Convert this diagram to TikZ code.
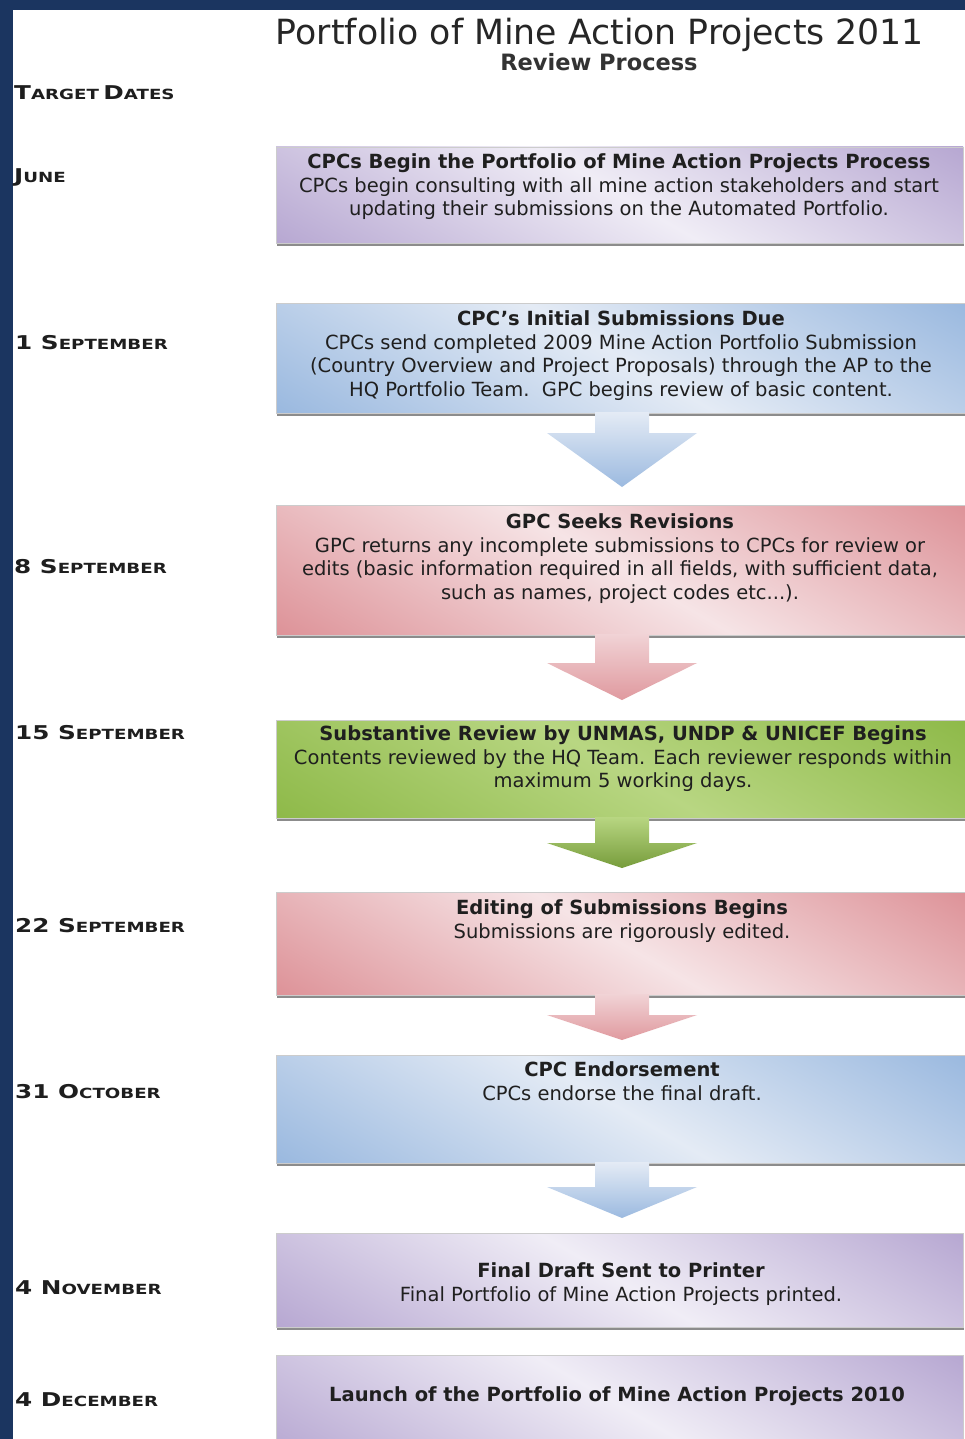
\documentclass[tikz,border=0pt]{standalone}
\usepackage{fontspec}
\usepackage{graphicx}
\setmainfont{DejaVu Sans}
\usetikzlibrary{calc,shadows}
\definecolor{navy}{RGB}{27,53,96}
\definecolor{purpD}{RGB}{180,164,208}
\definecolor{purpL}{RGB}{240,237,246}
\definecolor{blueD}{RGB}{150,182,222}
\definecolor{blueL}{RGB}{228,235,245}
\definecolor{pinkD}{RGB}{220,142,148}
\definecolor{pinkL}{RGB}{246,228,230}
\definecolor{greenD}{RGB}{140,184,70}
\definecolor{greenL}{RGB}{184,214,130}
\definecolor{datecol}{RGB}{30,30,30}
\pgfdeclarehorizontalshading{purpshade}{100bp}{color(0bp)=(purpD); color(14bp)=(purpD); color(50bp)=(purpL); color(86bp)=(purpD); color(100bp)=(purpD)}
\pgfdeclarehorizontalshading{blueshade}{100bp}{color(0bp)=(blueD); color(14bp)=(blueD); color(50bp)=(blueL); color(86bp)=(blueD); color(100bp)=(blueD)}
\pgfdeclarehorizontalshading{pinkshade}{100bp}{color(0bp)=(pinkD); color(14bp)=(pinkD); color(50bp)=(pinkL); color(86bp)=(pinkD); color(100bp)=(pinkD)}
\pgfdeclarehorizontalshading{greenshade}{100bp}{color(0bp)=(greenD); color(14bp)=(greenD); color(50bp)=(greenL); color(86bp)=(greenD); color(100bp)=(greenD)}
\newcommand{\Bg}[1]{{\fontsize{19}{19}\selectfont #1}}
\newcommand{\Sm}[1]{{\fontsize{14}{14}\selectfont #1}}
\newcommand{\dsc}[1]{\scalebox{1.3}[1]{\bfseries #1}}
\newcommand{\blockarrow}[4]{%
  \shade[#4] ($(#1)+(-27,-1)$) -- ($(#1)+(27,-1)$) -- ($(#1)+(27,#3)$) -- ($(#1)+(75,#3)$) -- (#2) -- ($(#1)+(-75,#3)$) -- ($(#1)+(-27,#3)$) -- cycle;}
\tikzset{
  box/.style={rectangle, inner sep=0pt, outer sep=0pt, draw=black!20, line width=0.7pt, shading angle=60,
    drop shadow={shadow xshift=0.5pt, shadow yshift=-3pt, fill=black, opacity=0.45}},
  boxtext/.style={anchor=north, align=center, inner sep=0pt, font=\fontsize{19.5}{23.5}\selectfont, text=black!88},
  datelab/.style={anchor=base west, inner sep=0pt, text=datecol},
  bluearrow/.style={top color=blueL, bottom color=blueD!95},
  pinkarrow/.style={top color=pinkL!80!pinkD, bottom color=pinkD!90},
  greenarrow/.style={top color=greenL, bottom color=greenD!85!black},
}
\begin{document}
\begin{tikzpicture}[x=1pt,y=-1pt]
\useasboundingbox (0,0) rectangle (965,1439);
\fill[white] (0,0) rectangle (965,1439);
\fill[navy] (0,0) rectangle (965,10);
\fill[navy] (0,0) rectangle (13,1439);

% titles
\node[anchor=base, inner sep=0pt, font=\fontsize{34.7}{34.7}\selectfont, text=black!85] (title) at (600,45) {Portfolio of Mine Action Projects 2011};
\node[anchor=base, inner sep=0pt, font=\fontsize{22.5}{22.5}\selectfont\bfseries, text=black!80] (subtitle) at (599,71) {Review Process};

% date labels
\node[datelab] (dT) at (14,100) {\dsc{\Bg{T}\Sm{ARGET} \Bg{D}\Sm{ATES}}};
\node[datelab] (d1) at (14,183) {\dsc{\Bg{J}\Sm{UNE}}};
\node[datelab] (d2) at (15,349) {\dsc{\Bg{1 S}\Sm{EPTEMBER}}};
\node[datelab] (d3) at (14,573) {\dsc{\Bg{8 S}\Sm{EPTEMBER}}};
\node[datelab] (d4) at (15,739) {\dsc{\Bg{15 S}\Sm{EPTEMBER}}};
\node[datelab] (d5) at (15,932) {\dsc{\Bg{22 S}\Sm{EPTEMBER}}};
\node[datelab] (d6) at (15,1098) {\dsc{\Bg{31 O}\Sm{CTOBER}}};
\node[datelab] (d7) at (15,1294) {\dsc{\Bg{4 N}\Sm{OVEMBER}}};
\node[datelab] (d8) at (15,1406) {\dsc{\Bg{4 D}\Sm{ECEMBER}}};

% boxes
\node[box, shading=purpshade, anchor=north west, minimum width=687pt, minimum height=96pt] (b1) at (276,147) {};
\node[box, shading=blueshade, anchor=north west, minimum width=692pt, minimum height=110pt] (b2) at (276,303) {};
\node[box, shading=pinkshade, anchor=north west, minimum width=692pt, minimum height=130pt] (b3) at (276,505) {};
\node[box, shading=greenshade, anchor=north west, minimum width=692pt, minimum height=98pt] (b4) at (276,720) {};
\node[box, shading=pinkshade, anchor=north west, minimum width=692pt, minimum height=103pt] (b5) at (276,892) {};
\node[box, shading=blueshade, anchor=north west, minimum width=692pt, minimum height=108pt] (b6) at (276,1055) {};
\node[box, shading=purpshade, anchor=north west, minimum width=687pt, minimum height=94pt] (b7) at (276,1233) {};
\node[box, shading=purpshade, anchor=north west, minimum width=687pt, minimum height=100pt] (b8) at (276,1355) {};

% connectors (block arrows)
\blockarrow{b2.south}{$(b3.north)+(0,-18)$}{20}{bluearrow}
\blockarrow{b3.south}{$(b4.north)+(0,-20)$}{28}{pinkarrow}
\blockarrow{b4.south}{$(b5.north)+(0,-24)$}{25}{greenarrow}
\blockarrow{b5.south}{$(b6.north)+(0,-15)$}{20}{pinkarrow}
\blockarrow{b6.south}{$(b7.north -| b6.south)+(0,-15)$}{24}{bluearrow}

% box texts
\node[boxtext] (t1) at (619,153.5) {\textbf{CPCs Begin the Portfolio of Mine Action Projects Process}\\CPCs begin consulting with all mine action stakeholders and start\\updating their submissions on the Automated Portfolio.};
\node[boxtext] (t2) at (621,310.5) {\textbf{CPC's Initial Submissions Due}\\CPCs send completed 2009 Mine Action Portfolio Submission\\(Country Overview and Project Proposals) through the AP to the\\HQ Portfolio Team.\ \ GPC begins review of basic content.};
\node[boxtext] (t3) at (620,513.5) {\textbf{GPC Seeks Revisions}\\GPC returns any incomplete submissions to CPCs for review or\\edits (basic information required in all fields, with sufficient data,\\such as names, project codes etc...).};
\node[boxtext] (t4) at (623,725.5) {\textbf{Substantive Review by UNMAS, UNDP \& UNICEF Begins}\\Contents reviewed by the HQ Team. Each reviewer responds within\\maximum 5 working days.};
\node[boxtext] (t5) at (622,899.5) {\textbf{Editing of Submissions Begins}\\Submissions are rigorously edited.};
\node[boxtext] (t6) at (622,1061.5) {\textbf{CPC Endorsement}\\CPCs endorse the final draft.};
\node[boxtext] (t7) at (621,1262.5) {\textbf{Final Draft Sent to Printer}\\Final Portfolio of Mine Action Projects printed.};
\node[boxtext] (t8) at (617,1386.5) {\textbf{Launch of the Portfolio of Mine Action Projects 2010}};
\end{tikzpicture}
\end{document}
